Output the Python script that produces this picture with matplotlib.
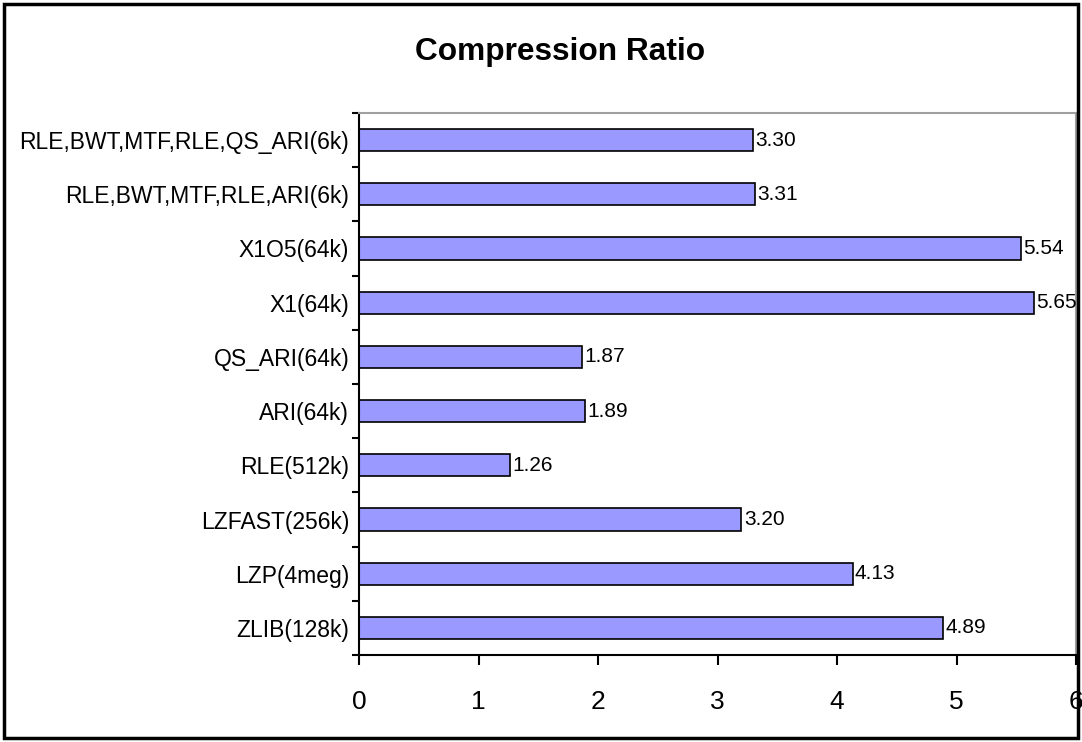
import matplotlib.pyplot as plt
import numpy as np
from matplotlib.patches import Rectangle

plt.rcParams['font.family'] = ['Liberation Sans', 'DejaVu Sans']

# data (bottom to top)
labels = ['ZLIB(128k)', 'LZP(4meg)', 'LZFAST(256k)', 'RLE(512k)', 'ARI(64k)',
          'QS_ARI(64k)', 'X1(64k)', 'X1O5(64k)', 'RLE,BWT,MTF,RLE,ARI(6k)',
          'RLE,BWT,MTF,RLE,QS_ARI(6k)']
ratios = [4.89, 4.13, 3.20, 1.26, 1.89, 1.87, 5.65, 5.54, 3.31, 3.30]
xticks = [0, 1, 2, 3, 4, 5, 6]

W, H = 1082, 742
fig = plt.figure(figsize=(W/100, H/100), dpi=100)
ax = fig.add_axes([359/W, 1-655/H, (1076-359)/W, (655-113)/H])

y = np.arange(len(labels))
ax.barh(y, ratios, height=0.41, color='#9999FF', edgecolor='black', linewidth=1.2)
for yi, v in zip(y, ratios):
    ax.text(v + 0.02, yi, '%.2f' % v, va='center', ha='left', fontsize=15)

ax.set_xlim(0, 6)
ax.set_ylim(-0.5, len(labels)-0.5)
ax.set_xticks(xticks)
ax.set_xticklabels([str(t) for t in xticks], fontsize=19)
ax.set_yticks(y)
ax.set_yticklabels(labels, fontsize=16.5)
ax.set_yticks(np.arange(len(labels)+1)-0.5, minor=True)
ax.tick_params(axis='y', which='major', length=0, pad=7)
ax.tick_params(axis='y', which='minor', length=5, width=1.5, direction='out')
ax.tick_params(axis='x', length=7, width=1.5, direction='out', pad=18)

for s in ['top', 'right']:
    ax.spines[s].set_color('#a0a0a0')
    ax.spines[s].set_linewidth(1.5)
for s in ['left', 'bottom']:
    ax.spines[s].set_color('black')
    ax.spines[s].set_linewidth(1.5)

fig.text(560/W, 1-60/H, 'Compression Ratio', ha='center', va='baseline',
         fontsize=22.8, fontweight='bold')

fig.patches.append(Rectangle((4/W, 4/H), 1-8/W, 1-8/H, transform=fig.transFigure,
                             fill=False, edgecolor='black', linewidth=2.5))

plt.savefig('out.png', dpi=100)
